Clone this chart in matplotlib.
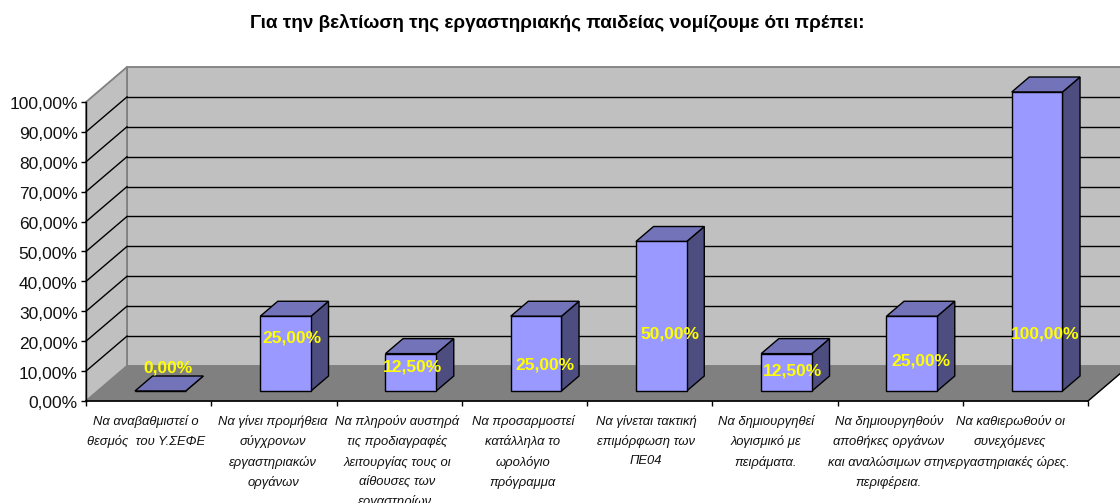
import matplotlib
matplotlib.use('Agg')
import matplotlib.pyplot as plt
from matplotlib.patches import Polygon
from matplotlib.transforms import ScaledTranslation

W, H = 1120, 503

titulo = 'Για την βελτίωση της εργαστηριακής παιδείας νομίζουμε ότι πρέπει:'
categorias = [
    'Να αναβαθμιστεί ο\nθεσμός  του Υ.ΣΕΦΕ',
    'Να γίνει προμήθεια\nσύγχρονων\nεργαστηριακών\nοργάνων',
    'Να πληρούν αυστηρά\nτις προδιαγραφές\nλειτουργίας τους οι\nαίθουσες των\nεργαστηρίων.',
    'Να προσαρμοστεί\nκατάλληλα το\nωρολόγιο\nπρόγραμμα',
    'Να γίνεται τακτική\nεπιμόρφωση των\nΠΕ04',
    'Να δημιουργηθεί\nλογισμικό με\nπειράματα.',
    'Να δημιουργηθούν\nαποθήκες οργάνων\nκαι αναλώσιμων στην\nπεριφέρεια.',
    'Να καθιερωθούν οι\nσυνεχόμενες\nεργαστηριακές ώρες.',
]
valores = [0, 25, 12.5, 25, 50, 12.5, 25, 100]
ticks_y = [0, 10, 20, 30, 40, 50, 60, 70, 80, 90, 100]

# onde ficam os textos, em pixels da imagem
pos_rotulos = [(168, 368), (292, 338), (413, 367), (545, 365),
               (670, 334), (792, 371), (921, 361), (1045, 334)]
pos_categorias = [146, 273, 397, 523, 646, 766, 889, 1010]

plt.rcParams['font.family'] = ['Liberation Sans', 'DejaVu Sans']

fig = plt.figure(figsize=(W / 100, H / 100), dpi=100)
ax = fig.add_axes([86 / W, (H - 401) / H, (1088 - 86) / W, 299 / H])
ax.set_xlim(0, len(valores))
ax.set_ylim(0, 100)
ax.patch.set_visible(False)

# perspectiva: quanto anda em x e y para profundidade 1
dx = 41 / (1002 / len(valores))
dy = 35 / 2.99


def proj(x, y, d):
    return (x + d * dx, y + d * dy)


def face(pontos, cor, borda='black', lw=1.0, z=1):
    ax.add_patch(Polygon([proj(*p) for p in pontos], closed=True, facecolor=cor,
                         edgecolor=borda, linewidth=lw, clip_on=False, zorder=z))


n = len(valores)
# paredes e chao
face([(0, 0, 1), (n, 0, 1), (n + 1, 100, 1), (0, 100, 1)], '#C0C0C0', '#808080', 1.3)
face([(0, 0, 0), (0, 0, 1), (0, 100, 1), (0, 100, 0)], '#C0C0C0', '#808080', 1.3)
for v in ticks_y[1:-1]:
    x0, y0 = proj(0, v, 1)
    ax.plot([x0, n + 1], [y0, y0], color='black', lw=1.0, clip_on=False, zorder=1.1)
    a = proj(0, v, 0)
    ax.plot([a[0], x0], [a[1], y0], color='black', lw=1.0, clip_on=False, zorder=1.1)
face([(0, 0, 0), (n, 0, 0), (n, 0, 1), (0, 0, 1)], '#808080', '#808080', 0.8, z=1.2)
a, b = proj(n, 0, 0), proj(n, 0, 1)
ax.plot([a[0], b[0]], [a[1], b[1]], color='black', lw=1.0, clip_on=False, zorder=1.3)

# barras
larg = 0.405
d0, d1 = 10 / 35, 25 / 35
for i, v in enumerate(valores):
    x0 = i + 0.5 - larg / 2
    x1 = x0 + larg
    face([(x1, 0, d0), (x1, 0, d1), (x1, v, d1), (x1, v, d0)], '#4D4D80', z=2)
    face([(x0, v, d0), (x1, v, d0), (x1, v, d1), (x0, v, d1)], '#7373B9', z=2)
    face([(x0, 0, d0), (x1, 0, d0), (x1, v, d0), (x0, v, d0)], '#9999FF', z=2)

# eixos
ax.spines['top'].set_visible(False)
ax.spines['right'].set_visible(False)
ax.spines['left'].set_linewidth(1.0)
ax.spines['bottom'].set_linewidth(1.2)
ax.set_xticks(range(n + 1))
ax.set_xticklabels([])
ax.set_yticks(ticks_y)
ax.set_yticklabels([f'{v:.2f}'.replace('.', ',') + '%' for v in ticks_y], fontsize=12.5, color='#111111')
ax.tick_params(axis='both', length=3.5, width=1.0, pad=2.5)
desce = ScaledTranslation(0, -1.5 / 100, fig.dpi_scale_trans)
for lbl in ax.get_yticklabels():
    lbl.set_transform(lbl.get_transform() + desce)

fig.text(557 / W, 1 - 23 / H, titulo, ha='center', va='center', fontsize=13.6, fontweight='bold')

for c, px in zip(categorias, pos_categorias):
    fig.text(px / W, 1 - 415 / H, c, ha='center', va='top', fontsize=9.4, style='italic',
             linespacing=1.74, color='#111111')

for v, (px, py) in zip(valores, pos_rotulos):
    texto = f'{v:.2f}'.replace('.', ',') + '%'
    fig.text(px / W, 1 - py / H, texto, ha='center', va='center', fontsize=12.5,
             fontweight='bold', color='#FFFF00', zorder=5)

fig.savefig('out.png', dpi=100)
